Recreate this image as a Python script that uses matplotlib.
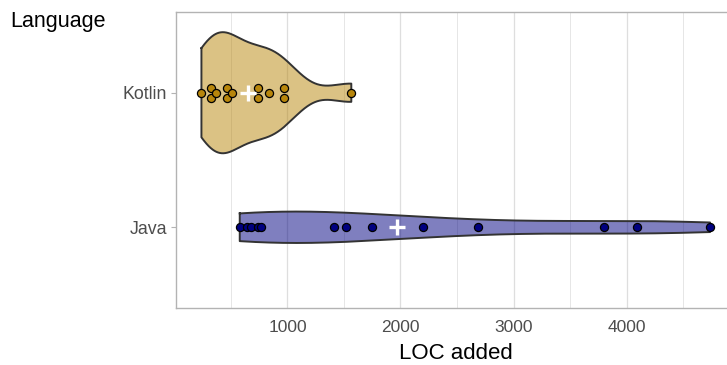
import numpy as np
import matplotlib
matplotlib.use("Agg")
import matplotlib.pyplot as plt

# LOC added per language
languages = ["Java", "Kotlin"]
kotlin_loc = [239, 321, 321, 372, 463, 463, 512, 740, 740, 833, 971, 971, 1565]
java_loc = [578, 640, 676, 740, 770, 1414, 1518, 1745, 2203, 2684, 3801, 4091, 4739]
fill_colors = ["#000080", "#B8860B"]
x_ticks = [1000, 2000, 3000, 4000]

plt.rcParams["font.family"] = ["Liberation Sans", "DejaVu Sans"]


def nrd0(x):
    x = np.asarray(x, float)
    q75, q25 = np.percentile(x, [75, 25])
    lo = min(x.std(ddof=1), (q75 - q25) / 1.34)
    return 0.9 * lo * len(x) ** -0.2


def density(x, n=512):
    x = np.asarray(x, float)
    bw = nrd0(x)
    grid = np.linspace(x.min(), x.max(), n)
    d = np.exp(-0.5 * ((grid[:, None] - x[None, :]) / bw) ** 2).sum(1)
    d /= len(x) * bw * np.sqrt(2 * np.pi)
    return grid, d


def tie_offsets(x, step):
    # stack identical values symmetrically around the centre line
    x = np.asarray(x)
    off = np.zeros(len(x))
    for v in np.unique(x):
        idx = np.where(x == v)[0]
        off[idx] = (np.arange(len(idx)) - (len(idx) - 1) / 2) * step
    return off


fig = plt.figure(figsize=(7.27, 3.65), dpi=100)
ax = fig.add_axes([176 / 727, 57 / 365, 559.6 / 727, 296 / 365])

groups = [java_loc, kotlin_loc]
dens = [density(g) for g in groups]
dmax = max(d.max() for _, d in dens)

for i, (g, (grid, d), col) in enumerate(zip(groups, dens, fill_colors)):
    pos = i + 1
    w = d / dmax * 0.45
    ax.fill_between(grid, pos - w, pos + w, facecolor=col, alpha=0.5,
                    edgecolor="none", zorder=2)
    xs = np.concatenate([grid, grid[::-1], grid[:1]])
    ys = np.concatenate([pos + w, (pos - w)[::-1], (pos + w)[:1]])
    ax.plot(xs, ys, color="#333333", lw=1.4, zorder=3)
    ax.scatter(g, pos + tie_offsets(g, 0.074), s=34, facecolor=col,
               edgecolor="black", linewidth=0.9, zorder=4)
    ax.plot(np.mean(g), pos, marker="+", color="white", markersize=11,
            mew=2.4, zorder=5)

ax.set_xlim(14, 4965)
ax.set_ylim(0.4, 2.6)
ax.set_yticks([1, 2])
ax.set_yticklabels(languages)
ax.set_xticks(x_ticks)
ax.set_xticks(np.arange(500, 5000, 1000), minor=True)
ax.grid(axis="x", which="major", color="#dedede", lw=0.9, zorder=0)
ax.grid(axis="x", which="minor", color="#e6e6e6", lw=0.7, zorder=0)
ax.set_axisbelow(True)
for s in ax.spines.values():
    s.set_color("#b3b3b3")
    s.set_linewidth(1.0)
ax.tick_params(axis="x", which="both", length=0, pad=9, labelsize=12.5,
               labelcolor="#4d4d4d")
ax.tick_params(axis="y", length=3.5, width=0.8, color="#b3b3b3", pad=3,
               labelsize=12.8, labelcolor="#4d4d4d")

fig.text(456 / 727, 1 - 359 / 365, "LOC added", ha="center", va="baseline",
         fontsize=16)
fig.text(10 / 727, 1 - 27.5 / 365, "Language", ha="left", va="baseline",
         fontsize=15.5)

fig.savefig("out.png", dpi=100)
